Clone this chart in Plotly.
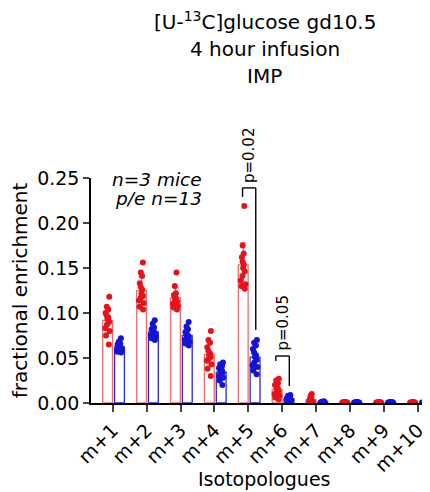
import numpy as np
import plotly.graph_objects as go

categories = ["m+1", "m+2", "m+3", "m+4", "m+5", "m+6", "m+7", "m+8", "m+9", "m+10"]

# individual points (13 per group), red = group A, blue = group B
red_points = [
    [0.118, 0.107, 0.104, 0.100, 0.097, 0.095, 0.093, 0.090, 0.087, 0.083, 0.080, 0.075, 0.065],
    [0.156, 0.145, 0.141, 0.133, 0.129, 0.126, 0.122, 0.119, 0.117, 0.114, 0.111, 0.107, 0.104],
    [0.145, 0.130, 0.122, 0.120, 0.118, 0.116, 0.115, 0.113, 0.112, 0.110, 0.108, 0.106, 0.104],
    [0.080, 0.070, 0.067, 0.062, 0.058, 0.055, 0.053, 0.051, 0.049, 0.047, 0.043, 0.038, 0.030],
    [0.219, 0.175, 0.166, 0.162, 0.157, 0.154, 0.150, 0.146, 0.141, 0.136, 0.132, 0.130, 0.127],
    [0.027, 0.025, 0.022, 0.020, 0.018, 0.016, 0.015, 0.013, 0.012, 0.010, 0.008, 0.006, 0.004],
    [0.010, 0.008, 0.006, 0.005, 0.004, 0.003, 0.003, 0.002, 0.002, 0.002, 0.001, 0.001, 0.001],
    [0.001, 0.001, 0.001, 0.001, 0.0005, 0.0005, 0.0005, 0.0005, 0.0005, 0.0005, 0.0005, 0.0005, 0.0005],
    [0.001, 0.001, 0.0005, 0.0005, 0.0005, 0.0005, 0.0005, 0.0005, 0.0005, 0.0005, 0.0005, 0.0005, 0.0005],
    [0.001, 0.0005, 0.0005, 0.0005, 0.0005, 0.0005, 0.0005, 0.0005, 0.0005, 0.0005, 0.0005, 0.0005, 0.0005],
]
blue_points = [
    [0.072, 0.068, 0.066, 0.065, 0.064, 0.063, 0.062, 0.061, 0.060, 0.059, 0.058, 0.057, 0.056],
    [0.092, 0.088, 0.084, 0.082, 0.080, 0.079, 0.078, 0.077, 0.076, 0.075, 0.074, 0.072, 0.070],
    [0.090, 0.085, 0.082, 0.079, 0.077, 0.075, 0.074, 0.073, 0.072, 0.070, 0.068, 0.066, 0.064],
    [0.045, 0.043, 0.041, 0.039, 0.037, 0.036, 0.035, 0.034, 0.032, 0.030, 0.028, 0.025, 0.020],
    [0.070, 0.067, 0.064, 0.060, 0.056, 0.053, 0.051, 0.048, 0.045, 0.042, 0.040, 0.036, 0.032],
    [0.009, 0.008, 0.007, 0.006, 0.006, 0.005, 0.005, 0.004, 0.004, 0.003, 0.003, 0.002, 0.002],
    [0.002, 0.0015, 0.001, 0.001, 0.001, 0.001, 0.001, 0.001, 0.001, 0.0005, 0.0005, 0.0005, 0.0005],
    [0.001, 0.001, 0.001, 0.0005, 0.0005, 0.0005, 0.0005, 0.0005, 0.0005, 0.0005, 0.0005, 0.0005, 0.0005],
    [0.001, 0.001, 0.0005, 0.0005, 0.0005, 0.0005, 0.0005, 0.0005, 0.0005, 0.0005, 0.0005, 0.0005, 0.0005],
    [0.001, 0.0005, 0.0005, 0.0005, 0.0005, 0.0005, 0.0005, 0.0005, 0.0005, 0.0005, 0.0005, 0.0005, 0.0005],
]
y_ticks = [0.00, 0.05, 0.10, 0.15, 0.20, 0.25]
title_lines = ["[U-<sup>13</sup>C]glucose gd10.5", "4 hour infusion", "IMP"]

RED_PT = "#e3141c"
RED_BAR = "#e87070"
BLUE_PT = "#1414d2"
BLUE_BAR = "#2a2ad0"
FONT = "DejaVu Sans, Liberation Sans, sans-serif"

W, H = 430, 492
ML, MR, MT, MB = 79, 9, 170, 97
PW, PH = W - ML - MR, H - MT - MB


def px_x(x):  # figure pixel -> paper x
    return (x - ML) / PW


def px_y(y):  # figure pixel -> paper y
    return (H - MB - y) / PH


pos = np.arange(1, len(categories) + 1)
red_x = pos - 0.15
blue_x = pos + 0.20
bw = 0.29

red_mean = [np.mean(p) for p in red_points]
red_sd = [np.std(p, ddof=1) for p in red_points]
blue_mean = [np.mean(p) for p in blue_points]
blue_sd = [np.std(p, ddof=1) for p in blue_points]

fig = go.Figure()
fig.add_trace(go.Bar(x=red_x, y=red_mean, width=bw, marker=dict(color="rgba(255,255,255,0)", line=dict(color=RED_BAR, width=1.3)),
                     error_y=dict(type="data", array=red_sd, color=RED_BAR, thickness=1.2, width=3), showlegend=False))
fig.add_trace(go.Bar(x=blue_x, y=blue_mean, width=bw, marker=dict(color="rgba(255,255,255,0)", line=dict(color=BLUE_BAR, width=1.3)),
                     error_y=dict(type="data", array=blue_sd, color=BLUE_BAR, thickness=1.2, width=3), showlegend=False))

for i in range(len(categories)):
    for xs, pts, col in ((red_x, red_points, RED_PT), (blue_x, blue_points, BLUE_PT)):
        fig.add_trace(go.Box(x=[xs[i]] * len(pts[i]), y=pts[i], width=0.2, boxpoints="all", jitter=0.9, pointpos=0,
                             fillcolor="rgba(0,0,0,0)", line=dict(color="rgba(0,0,0,0)", width=0),
                             marker=dict(color=col, size=6), showlegend=False, hoverinfo="y"))


# significance brackets
def bracket(x0, x1, ytop, yleft, yright, text):
    fig.add_shape(type="line", x0=x0, x1=x0, y0=yleft, y1=ytop, line=dict(color="black", width=1.4))
    fig.add_shape(type="line", x0=x0, x1=x1, y0=ytop, y1=ytop, line=dict(color="black", width=1.4))
    fig.add_shape(type="line", x0=x1, x1=x1, y0=ytop, y1=yright, line=dict(color="black", width=1.4))
    fig.add_annotation(x=(x0 + x1) / 2, y=ytop, yshift=3, text=text, textangle=-90, showarrow=False,
                       xanchor="center", yanchor="bottom", font=dict(size=15, color="black", family=FONT))


bracket(pos[4] - 0.17, pos[4] + 0.22, 0.239, 0.229, 0.081, "p=0.02")
bracket(pos[5] - 0.19, pos[5] + 0.21, 0.0522, 0.0467, 0.019, "p=0.05")

fig.add_annotation(x=px_x(146), xref="paper", y=px_y(171), yref="paper", text="<i>n=3 mice</i>", showarrow=False,
                   xanchor="center", yanchor="middle", font=dict(size=18.5, color="black", family=FONT))
fig.add_annotation(x=px_x(147), xref="paper", y=px_y(190), yref="paper", text="<i>p/e n=13</i>", showarrow=False,
                   xanchor="center", yanchor="middle", font=dict(size=18.5, color="black", family=FONT))

for line, ypix in zip(title_lines, [12.5, 40.5, 67.5]):
    fig.add_annotation(x=px_x(255), xref="paper", y=px_y(ypix), yref="paper", text=line, showarrow=False,
                       xanchor="center", yanchor="middle", font=dict(size=20, color="black", family=FONT))

fig.add_annotation(x=px_x(254), xref="paper", y=px_y(471), yref="paper", text="Isotopologues", showarrow=False,
                   xanchor="center", yanchor="middle", font=dict(size=19, color="black", family=FONT))

fig.update_layout(
    width=W, height=H,
    margin=dict(l=ML, r=MR, t=MT, b=MB),
    paper_bgcolor="white", plot_bgcolor="white",
    barmode="overlay", boxmode="overlay",
    font=dict(family=FONT, color="black"),
    xaxis=dict(range=[0.36, 10.33], tickvals=list(pos), ticktext=categories, tickangle=-45,
               showline=True, linecolor="black", linewidth=1.5, ticks="outside", ticklen=7, tickwidth=1.5,
               tickfont=dict(size=19, color="black", family=FONT), showgrid=False, zeroline=False),
    yaxis=dict(range=[0, 0.25], tickvals=y_ticks, ticktext=[f"{v:.2f}" for v in y_ticks],
               showline=True, linecolor="black", linewidth=1.5, ticks="outside", ticklen=6, tickwidth=1.5,
               tickfont=dict(size=19, color="black", family=FONT), showgrid=False, zeroline=False,
               title=dict(text="fractional enrichment", font=dict(size=20, color="black", family=FONT), standoff=6)),
)

fig.write_html("out.html")
